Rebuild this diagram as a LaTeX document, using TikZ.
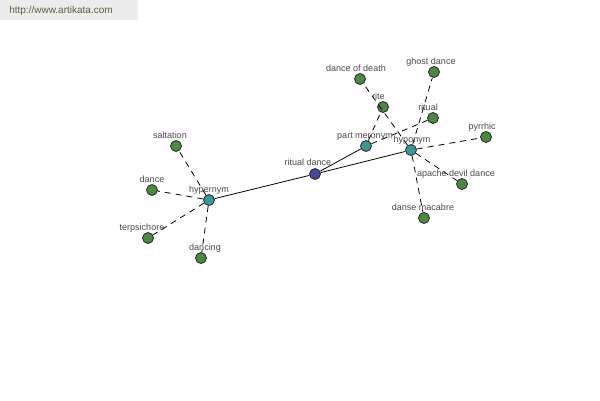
\documentclass[tikz,border=0pt]{standalone}
\usepackage{fontspec}
\setmainfont{Liberation Sans}
\definecolor{leafgreen}{RGB}{76,136,68}
\definecolor{relteal}{RGB}{62,150,152}
\definecolor{rootblue}{RGB}{72,72,152}
\definecolor{labelgray}{RGB}{72,72,72}
\definecolor{bannergray}{RGB}{236,236,236}
\definecolor{bannertext}{RGB}{86,96,60}
\begin{document}
\begin{tikzpicture}[x=1pt,y=-1pt,
  dot/.style={circle, draw=black!85, line width=0.8pt, minimum size=11pt, inner sep=0pt},
  leaf/.style={dot, fill=leafgreen},
  rel/.style={dot, fill=relteal},
  root/.style={dot, fill=rootblue},
  lbl/.style={font=\fontsize{9}{10}\selectfont, text=labelgray, inner sep=0pt, anchor=base},
  dsh/.style={dash pattern=on 6pt off 5pt, line width=0.8pt, draw=black},
  sol/.style={line width=0.8pt, draw=black}]
\useasboundingbox[fill=white] (0,0) rectangle (600,400);
% banner
\fill[bannergray] (0,0) rectangle (138,20);
\node[font=\fontsize{10}{12}\selectfont, text=bannertext, inner sep=0pt] (url) at (61,11) {http://www.artikata.com};
% nodes
\node[root] (rd) at (315,174) {};
\node[rel] (pm) at (366,146) {};
\node[rel] (hypo) at (411,150) {};
\node[rel] (hyper) at (209,200) {};
\node[leaf] (dod) at (360,79) {};
\node[leaf] (gd) at (434,72) {};
\node[leaf] (rite) at (383,107) {};
\node[leaf] (ritual) at (433,118) {};
\node[leaf] (pyr) at (486,137) {};
\node[leaf] (add) at (462,184) {};
\node[leaf] (dm) at (424,218) {};
\node[leaf] (salt) at (176,146) {};
\node[leaf] (dance) at (152,190) {};
\node[leaf] (terp) at (148,238) {};
\node[leaf] (dancing) at (201,258) {};
% edges
\draw[sol] (rd) -- (hyper);
\draw[sol] (rd) -- (hypo);
\draw[sol] (rd) -- (pm);
\draw[dsh] (pm) -- (rite);
\draw[dsh] (pm) -- (ritual);
\draw[dsh] (hypo) -- (dod);
\draw[dsh] (hypo) -- (gd);
\draw[dsh] (hypo) -- (pyr);
\draw[dsh] (hypo) -- (add);
\draw[dsh] (hypo) -- (dm);
\draw[dsh] (hyper) -- (salt);
\draw[dsh] (hyper) -- (dance);
\draw[dsh] (hyper) -- (terp);
\draw[dsh] (hyper) -- (dancing);
% labels
\node[lbl] (l-rd) at (308,165) {ritual dance};
\node[lbl] (l-pm) at (365,138) {part meronym};
\node[lbl] (l-hypo) at (412,142) {hyponym};
\node[lbl] (l-hyper) at (209,192) {hypernym};
\node[lbl] (l-dod) at (356,71) {dance of death};
\node[lbl] (l-gd) at (431,64) {ghost dance};
\node[lbl] (l-rite) at (378.5,99) {rite};
\node[lbl] (l-ritual) at (428,110) {ritual};
\node[lbl] (l-pyr) at (482,129) {pyrrhic};
\node[lbl] (l-add) at (456,176) {apache devil dance};
\node[lbl] (l-dm) at (423,210) {danse macabre};
\node[lbl] (l-salt) at (170,138) {saltation};
\node[lbl] (l-dance) at (152,182) {dance};
\node[lbl] (l-terp) at (142,230) {terpsichore};
\node[lbl] (l-dancing) at (205,250) {dancing};
\end{tikzpicture}
\end{document}
